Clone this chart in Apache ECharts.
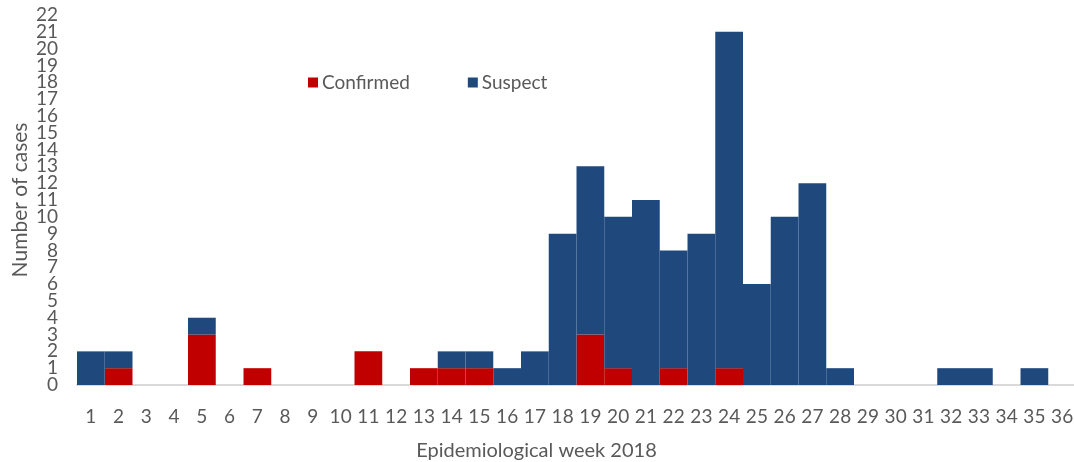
<!DOCTYPE html>
<html>
<head>
<meta charset="utf-8">
<script src="https://cdn.jsdelivr.net/npm/echarts@6/dist/echarts.min.js"></script>
<style>
  html, body { margin: 0; padding: 0; background: #fff; }
  #chart { width: 1074px; height: 462px; }
</style>
</head>
<body>
<div id="chart"></div>
<script>
// Epidemiological weeks 1..36
const weeks = Array.from({ length: 36 }, (_, i) => String(i + 1));

// Confirmed cases per week (bottom of each stack)
const confirmed = [0, 1, 0, 0, 3, 0, 1, 0, 0, 0, 2, 0, 1, 1, 1, 0, 0, 0,
                   3, 1, 0, 1, 0, 1, 0, 0, 0, 0, 0, 0, 0, 0, 0, 0, 0, 0];

// Suspect cases per week (stacked on top of confirmed)
const suspect = [2, 1, 0, 0, 1, 0, 0, 0, 0, 0, 0, 0, 0, 1, 1, 1, 2, 9,
                 10, 9, 11, 7, 9, 20, 6, 10, 12, 1, 0, 0, 0, 1, 1, 0, 1, 0];

// Count axis range
const yMin = 0;
const yMax = 22;
const yStep = 1;

const textColor = '#595959';
const font = 'Lato, "Open Sans", sans-serif';

// The tightly packed count labels are split over two overlaid axes
// (even and odd values) so that none of them gets dropped for overlapping.
function countAxis(parity, withName) {
  return {
    type: 'value',
    position: 'left',
    min: yMin,
    max: yMax,
    interval: yStep,
    name: withName ? 'Number of cases' : '',
    nameLocation: 'middle',
    nameGap: 46,
    nameMoveOverlap: false,
    nameTextStyle: { fontFamily: font, fontSize: 21, color: textColor },
    axisLine: { show: false },
    axisTick: { show: false },
    splitLine: { show: false },
    axisLabel: {
      fontFamily: font, fontSize: 19, color: textColor, margin: 19,
      showMinLabel: true, showMaxLabel: true, hideOverlap: false,
      formatter: v => (Math.round(v) % 2 === parity ? String(v) : '')
    }
  };
}

const chart = echarts.init(document.getElementById('chart'));
chart.setOption({
  animation: false,
  textStyle: { fontFamily: font, color: textColor },
  legend: {
    left: 303,
    top: 68,
    itemWidth: 10,
    itemHeight: 10,
    itemGap: 58,
    icon: 'rect',
    textStyle: { fontFamily: font, fontSize: 19, color: textColor, padding: [0, 0, 0, -1] },
    data: ['Confirmed', 'Suspect']
  },
  grid: {
    left: 77, top: 15, width: 999, height: 370,
    containLabel: false,
    outerBoundsMode: 'none'
  },
  xAxis: {
    type: 'category',
    data: weeks,
    name: 'Epidemiological week 2018',
    nameLocation: 'middle',
    nameGap: 56,
    nameMoveOverlap: false,
    nameTextStyle: { fontFamily: font, fontSize: 20, color: textColor, padding: [0, 80, 0, 0] },
    axisLine: { lineStyle: { color: '#d9d9d9', width: 2 } },
    axisTick: { show: false },
    axisLabel: { fontFamily: font, fontSize: 19, color: textColor, margin: 22, interval: 0 }
  },
  yAxis: [countAxis(0, true), countAxis(1, false)],
  series: [
    {
      name: 'Confirmed',
      type: 'bar',
      stack: 'cases',
      yAxisIndex: 0,
      data: confirmed,
      barCategoryGap: '0%',
      itemStyle: { color: '#c00000' }
    },
    {
      name: 'Suspect',
      type: 'bar',
      stack: 'cases',
      yAxisIndex: 0,
      data: suspect,
      barCategoryGap: '0%',
      itemStyle: { color: '#1f497d' }
    }
  ]
});
</script>
</body>
</html>
